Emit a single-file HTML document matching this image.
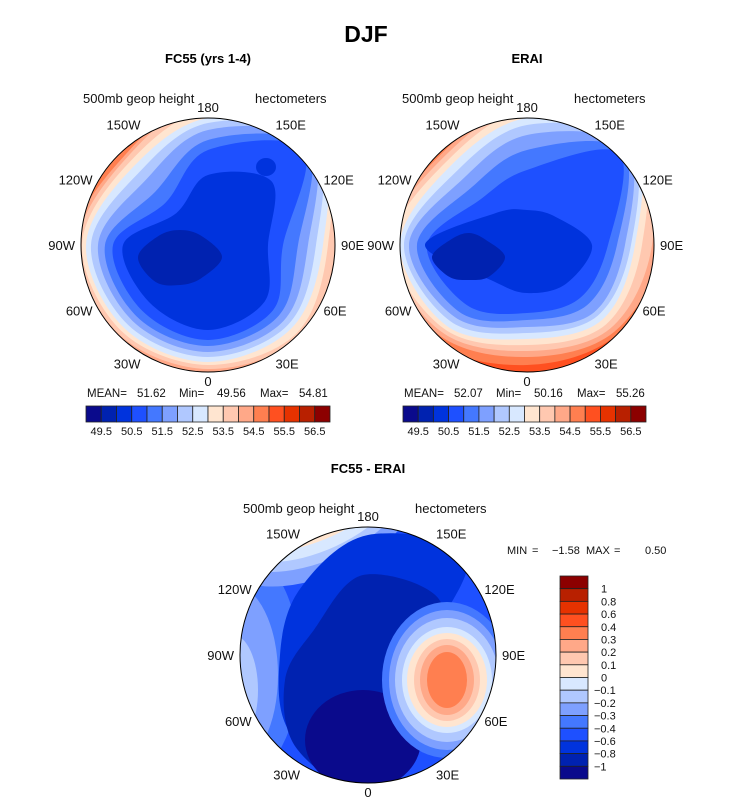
<!DOCTYPE html>
<html><head><meta charset="utf-8">
<style>
html,body{margin:0;padding:0;background:#fff;}
svg{display:block;font-family:"Liberation Sans",sans-serif;}
</style></head>
<body>
<svg id="fig" width="733" height="798" viewBox="0 0 733 798" xmlns="http://www.w3.org/2000/svg">
<text x="366" y="42" font-size="23" font-weight="bold" text-anchor="middle">DJF</text>
<text x="208" y="63" font-size="13" font-weight="bold" text-anchor="middle">FC55 (yrs 1-4)</text>
<text x="527" y="63" font-size="13" font-weight="bold" text-anchor="middle">ERAI</text>
<text x="368" y="473" font-size="13" font-weight="bold" text-anchor="middle">FC55 - ERAI</text>
<g id="panels"></g>
</svg>
<script>
const colors=["#0a0a8c","#0022b0","#0033dd","#1e50ff","#4478ff","#7ea0ff","#b0c8ff","#d8e8ff","#ffe5d0","#ffc8b0","#ffa888","#ff7f50","#ff5020","#e63200","#b82000","#8c0000"];
const absLabels=["49.5","50.5","51.5","52.5","53.5","54.5","55.5","56.5"];
const diffLabels=["1","0.8","0.6","0.4","0.3","0.2","0.1","0","\u22120.1","\u22120.2","\u22120.3","\u22120.4","\u22120.6","\u22120.8","\u22121"];
const lonNames=["0","30E","60E","90E","120E","150E","180","150W","120W","90W","60W","30W"];
const lonDeg=[0,30,60,90,120,150,180,-150,-120,-90,-60,-30];
const fcStats=["MEAN=","51.62","Min=","49.56","Max=","54.81"];
const eraStats=["MEAN=","52.07","Min=","50.16","Max=","55.26"];
const diffStats=["MIN","=","\u22121.58","MAX","=","0.50"];
// contour regions: radial: [colorIndex, dx, dy, [radii at R,DR,D,DL,L,UL,U,UR]]; ellipse: [colorIndex,'e',dx,dy,rx,ry,rot]
const fcBase=11;
const fcBands=[
 [10,0,0,[140,135,127,130,135,122,150,170]],
 [9,0,0,[128,130,124,126,130,119,145,165]],
 [8,0,0,[120,125,120,122,126,114,135,160]],
 [7,0,0,[115,118,117,118,122,108,127,155]],
 [6,0,0,[108,113,112,113,117,100,122,150]],
 [5,0,0,[100,107,107,107,110,90,115,145]],
 [4,0,0,[90,100,101,101,103,75,105,140]],
 [3,0,0,[75,92,95,93,95,60,95,135]],
 [2,0,0,[60,80,85,82,85,45,70,90]],
 [2,'e',58,-78,10,9,0],
 [1,-28,12,[42,30,28,35,42,30,27,30]]];
const eraBase=12;
const eraBands=[
 [11,0,0,[140,127,120,135,150,128,150,170]],
 [10,0,0,[135,123,112,126,145,125,145,165]],
 [9,0,0,[125,118,106,122,140,121,140,160]],
 [8,0,0,[115,112,100,118,135,116,135,155]],
 [7,0,0,[108,106,94,114,127,110,127,150]],
 [6,0,0,[104,100,88,108,123,102,120,145]],
 [5,0,0,[98,95,82,102,118,92,110,140]],
 [4,0,0,[90,85,75,95,110,80,95,135]],
 [3,0,0,[81,75,68,85,100,65,75,130]],
 [2,0,0,[65,55,48,50,102,45,35,40]],
 [1,-58,12,[36,28,23,28,37,25,24,24]]];
const dBase=3;
const dBands=[
 [4,'e',-130,10,62,115,0],[5,'e',-135,20,45,90,0],[6,'e',-135,35,25,55,0],
 [5,'e',-50,-140,110,60,-25],[6,'e',-50,-145,100,50,-25],[7,'e',-50,-148,92,43,-25],[8,'e',-50,-152,84,36,-25],[9,'e',-45,-156,70,28,-25],
 [2,0,0,[55,80,130,110,88,95,120,140]],
 [1,-5,25,[45,70,110,95,78,70,105,110]],
 [0,'e',-5,85,58,50,0],
 [4,'e',79,25,65,78,0],[5,'e',79,25,58,70,0],[6,'e',79,25,52,62,0],[7,'e',79,25,45,53,0],
 [8,'e',79,25,40,47,0],[9,'e',79,25,33,41,0],[10,'e',79,25,27,35,0],[11,'e',79,25,20,28,0]];
const ns="http://www.w3.org/2000/svg";
const P=document.getElementById('panels');
function mk(t,a,p){const e=document.createElementNS(ns,t);for(const k in a)e.setAttribute(k,a[k]);(p||P).appendChild(e);return e;}
function txt(x,y,s,fs,anc,p){const e=mk('text',{x:x,y:y,'font-size':fs,'text-anchor':anc||'start',fill:'#111'},p);e.textContent=s;return e;}
function radialPath(cx,cy,r){
  const pts=r.map((v,i)=>{const a=i*Math.PI/4;return [cx+Math.cos(a)*v,cy+Math.sin(a)*v];});
  const n=pts.length;let d='M'+pts[0][0].toFixed(1)+','+pts[0][1].toFixed(1);
  for(let i=0;i<n;i++){const p0=pts[(i-1+n)%n],p1=pts[i],p2=pts[(i+1)%n],p3=pts[(i+2)%n];
    const c1=[p1[0]+(p2[0]-p0[0])/6,p1[1]+(p2[1]-p0[1])/6],c2=[p2[0]-(p3[0]-p1[0])/6,p2[1]-(p3[1]-p1[1])/6];
    d+='C'+c1.map(v=>v.toFixed(1)).join(',')+' '+c2.map(v=>v.toFixed(1)).join(',')+' '+p2.map(v=>v.toFixed(1)).join(',');}
  return d+'Z';}
function panel(id,cx,cy,R,base,bands){
  const g=mk('g',{});
  
  
  const cp=mk('clipPath',{id:id+'clip'},g);mk('circle',{cx:cx,cy:cy,r:R},cp);
  const f=mk('g',{'clip-path':'url(#'+id+'clip)'},g);
  const bg=mk('circle',{cx:cx,cy:cy,r:R,fill:colors[base]},f);
  
  
  bands.forEach(b=>{let e;
    if(b[1]==='e'){const x=cx+b[2],y=cy+b[3];e=mk('ellipse',{cx:x,cy:y,rx:b[4],ry:b[5],fill:colors[b[0]],transform:'rotate('+b[6]+' '+x+' '+y+')'},f);}
    else{e=mk('path',{d:radialPath(cx+b[1],cy+b[2],b[3]),fill:colors[b[0]]},f);}
    
    });
  mk('circle',{cx:cx,cy:cy,r:R,fill:'none',stroke:'#000','stroke-width':1},g);
  lonDeg.forEach((L,i)=>{const a=L*Math.PI/180;const x=cx+Math.sin(a)*(R+4),y=cy+Math.cos(a)*(R+4);
    let anc='middle',ty=y+5,tx=x;
    if(L===0){ty=y+10;}else if(L===180){ty=y-2;}else if(L<0){anc='end';tx=x-2;}else{anc='start';tx=x+2;}
    if(Math.abs(L)===150){ty=y-2;} if(Math.abs(L)===30){ty=y+10;}
    const t=txt(tx,ty,lonNames[i],13,anc,g);
    
    });
  const a=txt(cx-125,cy-142,'500mb geop height',13,'start',g);
  
  
  const b=txt(cx+47,cy-142,'hectometers',13,'start',g);
  
  
}
function hbar(id,x0,y0,w,h,stats){
  const g=mk('g',{});
  
  
  const bw=w/colors.length;
  colors.forEach((c,i)=>{const r=mk('rect',{x:x0+i*bw,y:y0,width:bw,height:h,fill:c,stroke:'#222','stroke-width':0.8},g);
    
    });
  absLabels.forEach((l,i)=>{const t=txt(x0+bw*(1+2*i),y0+h+13,l,11,'middle',g);
    
    });
  const offs=[1,51,93,131,174,213];
  stats.forEach((s,i)=>{const t=txt(x0+offs[i],y0-9,s,11.5,'start',g);
    
    });
}
panel('fc55',208,245,127,fcBase,fcBands);
panel('erai',527,245,127,eraBase,eraBands);
panel('diff',368,655,128,dBase,dBands);
hbar('fc55',86,406,244,16,fcStats);
hbar('erai',403,406,243,16,eraStats);
(function(){
  const g=mk('g',{});
  
  
  const x0=560,y0=576,w=28,h=203,bh=h/colors.length;
  colors.slice().reverse().forEach((c,i)=>{const r=mk('rect',{x:x0,y:y0+i*bh,width:w,height:bh,fill:c,stroke:'#222','stroke-width':0.8},g);
    
    });
  diffLabels.forEach((l,i)=>{const t=txt(l.startsWith('\u2212')?594:601,y0+bh*(i+1)+4,l,11,'start',g);
    
    });
  const sx=[507,532,552,586,614,645];
  diffStats.forEach((s,i)=>{const t=txt(sx[i],554,s,11,'start',g);
    
    });
})();
</script>
</body></html>
